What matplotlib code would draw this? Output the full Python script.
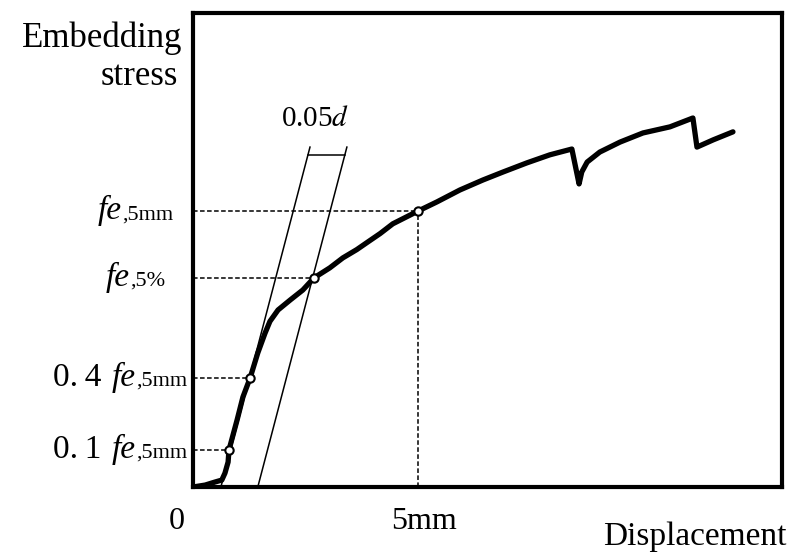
import matplotlib

matplotlib.use("Agg")
import matplotlib.pyplot as plt
from matplotlib.transforms import IdentityTransform

plt.rcParams["font.family"] = ["Liberation Serif", "DejaVu Serif"]
plt.rcParams["mathtext.fontset"] = "stix"

# Embedding curve: displacement (mm) vs stress (normalised, fe,5mm = 1)
disp = [0.0, 0.27, 0.49, 0.64, 0.71, 0.78, 0.80, 0.98, 1.11, 1.27, 1.44, 1.60,
        1.71, 1.89, 2.16, 2.44, 2.69, 3.04, 3.33, 3.64, 3.89, 4.16, 4.44, 5.00,
        5.42, 5.93, 6.44, 6.89, 7.42, 7.93, 8.42, 8.58, 8.64, 8.76, 9.04, 9.49,
        10.0, 10.6, 11.11, 11.20, 11.56, 12.0]
stress = [0.0, 0.007, 0.018, 0.025, 0.05, 0.09, 0.134, 0.242, 0.325, 0.394, 0.484,
          0.555, 0.598, 0.639, 0.675, 0.711, 0.755, 0.791, 0.827, 0.857, 0.885,
          0.915, 0.950, 0.996, 1.029, 1.072, 1.108, 1.137, 1.170, 1.199, 1.220,
          1.094, 1.137, 1.173, 1.209, 1.245, 1.278, 1.300, 1.332, 1.227, 1.253,
          1.282]

# marked points on the curve
pt_x = [0.80, 1.27, 2.69, 5.00]
pt_y = [0.134, 0.394, 0.755, 0.996]

# initial stiffness line and its 0.05d offset copy
stiff_x = [0.62, 2.60]
stiff_y = [0.0, 1.227]
offset_05d = 0.82
bar_y = 1.199

fig = plt.figure(figsize=(7.91, 5.54), dpi=100)
ax = fig.add_axes([193 / 791, 67 / 554, 589 / 791, 474 / 554])
ax.set_xlim(0, 13.09)
ax.set_ylim(0, 1.711)
ax.set_xticks([])
ax.set_yticks([])
for sp in ax.spines.values():
    sp.set_linewidth(3.0)

dash = (0, (3, 1.6))
ax.plot(stiff_x, stiff_y, color="black", lw=1.1)
ax.plot([x + offset_05d for x in stiff_x], stiff_y, color="black", lw=1.1)
slope = (stiff_y[1] - stiff_y[0]) / (stiff_x[1] - stiff_x[0])
bx = stiff_x[0] + (bar_y - stiff_y[0]) / slope
ax.plot([bx, bx + offset_05d], [bar_y, bar_y], color="black", lw=1.1)

for x, y in zip(pt_x, pt_y):
    ax.plot([0, x], [y, y], color="black", lw=1.1, ls=dash)
ax.plot([pt_x[3], pt_x[3]], [0, pt_y[3]], color="black", lw=1.1, ls=dash)

ax.plot(disp, stress, color="black", lw=3.8, solid_joinstyle="round",
        solid_capstyle="round", zorder=3)
ax.plot(pt_x, pt_y, "o", ms=6, mfc="white", mec="black", mew=1.5, zorder=4)

ax.annotate("0.05$d$", xy=(bx + offset_05d / 2, bar_y), xytext=(-8, 21),
            textcoords="offset points", ha="center", va="baseline", fontsize=21)

# x labels
ax.annotate("0", xy=(0, 0), xytext=(-12, -30), textcoords="offset points",
            ha="center", va="baseline", fontsize=23, annotation_clip=False)
ax.annotate("5mm", xy=(5, 0), xytext=(4, -30), textcoords="offset points",
            ha="center", va="baseline", fontsize=23, annotation_clip=False)
fig.text(787 / 791, 1 - 545 / 554, "Displacement", ha="right", va="baseline",
         fontsize=24)
fig.text(182 / 791, 1 - 47 / 554, "Embedding", ha="right", va="baseline",
         fontsize=25)
fig.text(178 / 791, 1 - 85 / 554, "stress", ha="right", va="baseline",
         fontsize=25)

# y labels assembled right to left from styled pieces
renderer = fig.canvas.get_renderer()


def rich_label(y, x_right, pieces):
    yd = ax.transData.transform((0, y))[1] - 8
    x = x_right
    for s, size, style, gap in reversed(pieces):
        t = fig.text(x, yd, s, fontsize=size, style=style, ha="right",
                     va="baseline", transform=IdentityTransform())
        x -= t.get_window_extent(renderer).width + gap


small = 16
fe = ("fe", 24, "italic", 2)
rich_label(pt_y[3], 173, [fe, (",5mm", small, "normal", 0)])
rich_label(pt_y[2], 165, [fe, (",5%", small, "normal", 0)])
rich_label(pt_y[1], 187, [("0.\u20094 ", 24, "normal", 2), fe,
                          (",5mm", small, "normal", 0)])
rich_label(pt_y[0], 187, [("0.\u20091 ", 24, "normal", 2), fe,
                          (",5mm", small, "normal", 0)])

fig.savefig("out.png", dpi=100)
